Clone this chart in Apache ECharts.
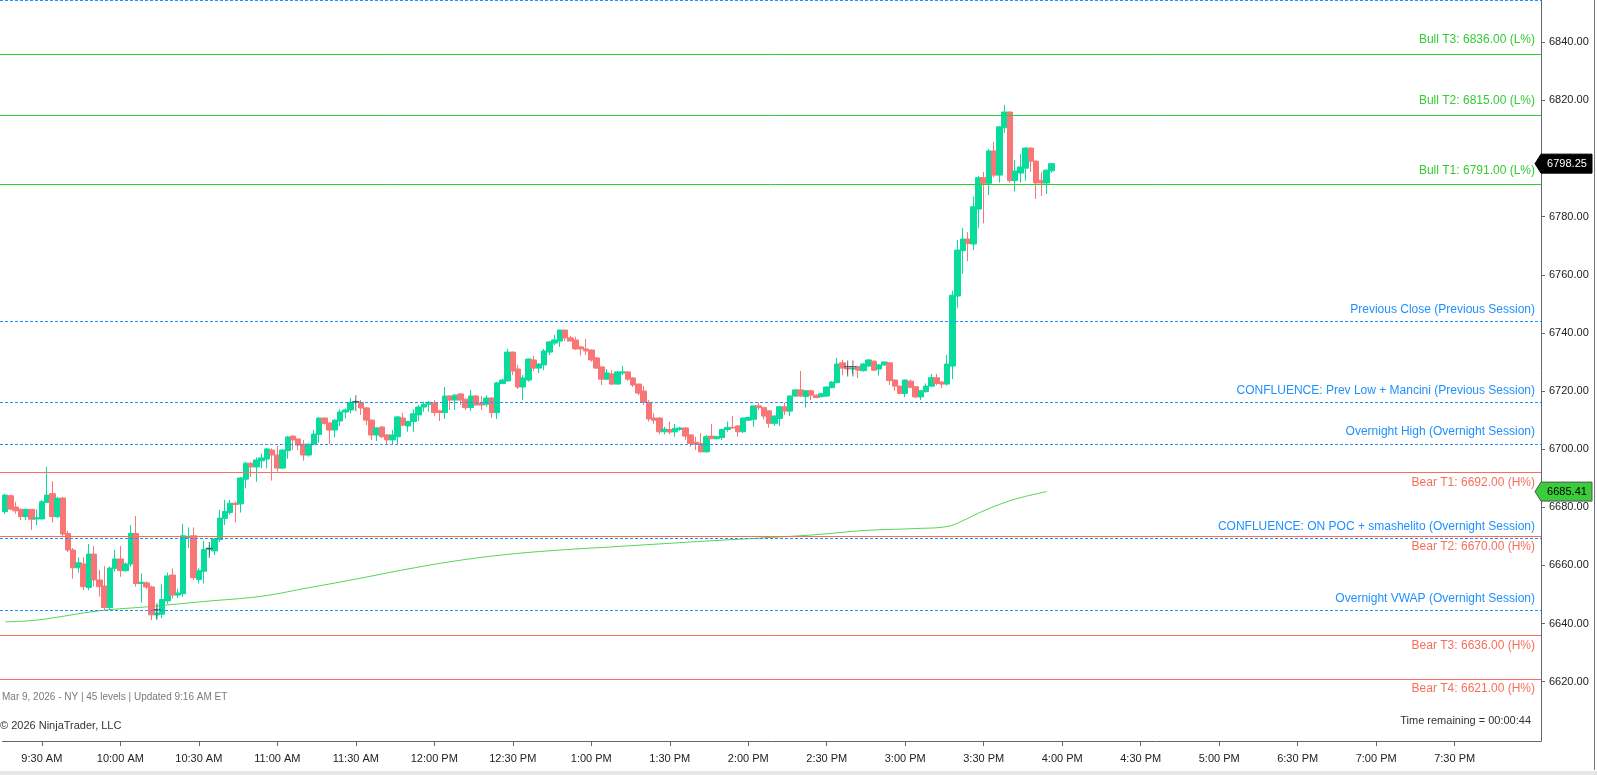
<!DOCTYPE html>
<html><head><meta charset="utf-8">
<script src="https://cdn.jsdelivr.net/npm/echarts@6/dist/echarts.min.js"></script>
<style>html,body{margin:0;padding:0;background:#fff;overflow:hidden}#c{width:1597px;height:775px}</style>
</head><body><div id="c"></div><script>
// ---------- data ----------
const firstBarMinute = 556;      // 9:16 AM, first 2-minute bar
const barMinutes = 2;
const slotCount = 294;           // time slots shown on the axis
const closedFrom = 1020, closedMinutes = 60; // 5:00 PM - 6:00 PM break
const tickLabels = ['9:30 AM','10:00 AM','10:30 AM','11:00 AM','11:30 AM','12:00 PM','12:30 PM','1:00 PM','1:30 PM','2:00 PM','2:30 PM','3:00 PM','3:30 PM','4:00 PM','4:30 PM','5:00 PM','6:30 PM','7:00 PM','7:30 PM'];
const yTickValues = [6620,6640,6660,6680,6700,6720,6740,6760,6780,6800,6820,6840];
const yMin = 6599.6, yMax = 6854.55;

// [open, close, low, high] per 2-minute bar
const ohlc = [
[6678.5,6684.2,6677.7,6684.6],[6684.0,6679.4,6679.0,6684.4],[6680.1,6678.8,6677.8,6681.9],[6679.3,6676.8,6675.6,6679.6],
[6676.8,6679.3,6675.6,6679.6],[6679.3,6675.9,6672.2,6679.4],[6676.0,6676.4,6673.9,6679.3],[6676.0,6681.9,6675.9,6682.5],
[6681.7,6684.2,6681.5,6693.9],[6684.7,6676.8,6674.7,6689.0],[6676.8,6683.1,6676.3,6683.6],[6683.2,6670.8,6669.8,6683.6],
[6671.0,6665.3,6664.6,6672.0],[6665.3,6659.2,6655.4,6666.0],[6659.2,6660.9,6657.5,6662.8],[6660.5,6652.7,6651.5,6662.8],
[6652.4,6663.9,6651.5,6667.4],[6663.9,6655.0,6652.7,6666.7],[6655.0,6652.7,6649.3,6658.4],[6652.9,6645.5,6644.7,6659.8],
[6645.5,6659.1,6644.7,6659.6],[6659.0,6662.2,6657.9,6665.3],[6662.2,6658.2,6656.1,6666.7],[6658.2,6660.5,6657.8,6661.0],
[6660.5,6671.0,6659.5,6673.9],[6671.0,6653.8,6652.7,6677.0],[6653.8,6654.2,6647.2,6657.3],[6654.0,6652.6,6651.8,6654.5],
[6652.6,6643.0,6641.2,6653.0],[6643.0,6643.6,6641.3,6645.5],[6643.2,6648.3,6641.8,6653.5],[6647.8,6656.4,6646.8,6657.5],
[6656.7,6649.8,6648.6,6659.0],[6649.8,6650.5,6648.8,6652.0],[6650.3,6670.2,6649.2,6674.3],[6669.6,6670.0,6666.0,6673.1],
[6670.2,6655.8,6655.0,6673.1],[6655.2,6658.2,6653.8,6659.0],[6658.0,6665.5,6653.8,6668.5],[6665.5,6665.8,6663.5,6667.0],
[6665.0,6669.1,6663.6,6669.5],[6668.9,6676.3,6668.0,6679.1],[6676.2,6678.6,6673.9,6682.5],[6678.2,6681.4,6677.5,6682.5],
[6681.4,6681.0,6674.8,6682.0],[6681.2,6690.1,6678.2,6690.4],[6689.7,6695.2,6686.5,6695.6],[6695.2,6693.9,6690.5,6695.5],
[6693.9,6696.3,6688.8,6697.2],[6696.0,6697.0,6693.4,6698.5],[6696.6,6700.1,6693.4,6700.4],[6699.7,6698.0,6689.2,6700.3],
[6698.0,6693.5,6692.3,6701.1],[6693.5,6699.7,6693.2,6700.0],[6699.5,6704.2,6696.7,6704.5],[6704.5,6703.2,6699.7,6704.8],
[6703.5,6701.4,6699.7,6703.8],[6701.7,6698.0,6696.0,6703.2],[6698.0,6701.7,6697.4,6702.0],[6701.7,6705.2,6701.5,6706.6],
[6705.1,6710.7,6702.2,6711.0],[6710.7,6708.8,6708.5,6711.0],[6709.0,6706.6,6701.8,6709.3],[6706.6,6710.0,6704.1,6710.3],
[6709.7,6712.8,6708.0,6713.7],[6712.8,6713.5,6710.6,6714.0],[6713.5,6716.1,6712.3,6717.6],[6716.1,6716.3,6715.5,6717.0],
[6716.1,6714.2,6711.8,6716.9],[6714.2,6710.0,6708.3,6714.5],[6710.0,6704.9,6703.2,6710.3],[6704.9,6707.3,6702.8,6707.6],
[6707.6,6704.3,6703.8,6708.0],[6704.9,6703.2,6701.8,6705.2],[6703.2,6704.9,6701.8,6706.6],[6704.3,6711.1,6701.8,6711.4],
[6710.7,6708.3,6707.8,6712.5],[6708.0,6709.5,6706.0,6709.8],[6709.5,6712.2,6706.0,6713.7],[6711.8,6714.5,6709.7,6715.2],
[6714.5,6715.5,6712.9,6716.3],[6715.5,6716.1,6712.9,6716.6],[6715.9,6712.6,6711.4,6716.9],[6713.2,6712.6,6709.7,6713.5],
[6712.6,6718.3,6710.4,6721.4],[6718.3,6716.9,6713.5,6718.6],[6716.9,6718.6,6713.5,6718.9],[6719.0,6716.9,6715.2,6719.4],
[6717.2,6714.3,6713.5,6717.5],[6714.3,6718.3,6713.1,6720.4],[6718.3,6715.2,6715.0,6718.6],[6715.9,6715.2,6713.5,6718.3],
[6715.5,6717.6,6714.6,6718.6],[6717.6,6712.6,6710.8,6717.9],[6712.6,6722.8,6710.4,6723.2],[6722.6,6723.8,6722.3,6724.2],
[6723.5,6733.4,6723.3,6734.5],[6733.4,6726.9,6725.5,6733.6],[6727.6,6721.4,6720.7,6729.0],[6721.4,6724.5,6716.9,6725.5],
[6723.8,6731.0,6723.2,6731.2],[6730.7,6727.9,6726.9,6732.1],[6727.9,6729.3,6726.2,6729.6],[6729.0,6733.8,6727.2,6734.5],
[6733.4,6736.9,6732.4,6737.2],[6736.5,6737.6,6735.8,6739.3],[6737.2,6741.0,6735.2,6741.0],[6741.0,6738.3,6737.2,6741.0],
[6738.3,6737.2,6737.2,6739.0],[6737.6,6734.5,6734.1,6738.7],[6735.2,6734.5,6732.2,6735.5],[6734.5,6733.8,6732.4,6737.9],
[6734.1,6730.7,6730.1,6734.4],[6731.4,6727.9,6727.6,6731.7],[6728.3,6724.1,6722.1,6728.6],[6724.1,6726.2,6724.0,6727.6],
[6725.9,6722.4,6722.0,6727.2],[6722.4,6726.6,6722.3,6726.9],[6726.2,6726.6,6725.5,6728.6],[6726.6,6724.1,6723.5,6726.8],
[6724.5,6722.1,6721.4,6724.8],[6722.4,6719.3,6718.6,6722.6],[6720.0,6716.1,6715.2,6721.7],[6716.1,6710.4,6709.5,6716.9],
[6710.7,6710.0,6708.7,6712.4],[6710.7,6706.0,6705.1,6711.0],[6706.0,6706.9,6705.1,6707.7],[6706.8,6705.9,6705.1,6709.5],
[6706.0,6707.2,6704.3,6708.7],[6706.8,6707.3,6706.3,6707.7],[6707.3,6704.5,6703.2,6707.6],[6704.9,6702.0,6700.9,6705.2],
[6702.4,6701.7,6699.7,6704.3],[6702.0,6699.1,6698.8,6705.5],[6699.1,6704.3,6698.8,6704.9],[6704.5,6703.6,6703.5,6708.7],
[6703.6,6704.3,6703.4,6704.6],[6704.0,6706.8,6703.2,6707.0],[6706.8,6707.5,6706.0,6709.5],[6707.5,6707.3,6707.1,6711.4],
[6708.0,6706.0,6704.3,6708.2],[6706.0,6710.7,6705.6,6710.9],[6710.0,6710.9,6709.8,6711.2],[6710.3,6714.9,6707.7,6715.1],
[6714.9,6714.3,6713.5,6716.0],[6714.3,6711.4,6710.3,6714.5],[6713.2,6708.9,6707.4,6713.4],[6708.9,6711.4,6708.0,6711.7],
[6710.6,6714.6,6708.0,6714.8],[6714.6,6713.1,6711.8,6716.0],[6713.1,6718.3,6711.4,6718.5],[6718.3,6720.4,6718.0,6720.6],
[6720.4,6718.3,6718.0,6726.9],[6718.1,6720.1,6714.3,6720.3],[6720.1,6718.6,6716.9,6720.4],[6718.6,6717.8,6717.5,6718.9],
[6718.1,6719.1,6717.8,6719.4],[6718.3,6721.4,6718.0,6721.6],[6721.2,6723.1,6720.9,6723.4],[6722.9,6729.3,6722.7,6731.4],
[6729.7,6727.9,6725.5,6730.7],[6727.9,6727.6,6726.0,6729.0],[6727.6,6727.9,6726.0,6728.5],[6728.4,6727.2,6724.4,6728.7],
[6727.0,6729.3,6726.7,6729.6],[6728.6,6730.7,6728.3,6731.0],[6730.3,6727.2,6726.9,6730.5],[6727.6,6729.0,6725.3,6729.3],
[6729.0,6730.0,6728.7,6730.2],[6729.7,6723.6,6722.1,6729.9],[6723.8,6721.7,6720.1,6724.0],[6721.7,6719.2,6718.9,6721.9],
[6719.2,6723.8,6717.9,6724.0],[6723.4,6721.3,6720.9,6724.0],[6721.5,6718.0,6717.5,6721.7],[6718.0,6720.1,6716.9,6720.4],
[6719.8,6721.7,6719.5,6722.6],[6721.7,6724.6,6721.4,6725.9],[6724.6,6722.6,6722.0,6725.9],[6723.1,6722.4,6721.0,6723.4],
[6722.4,6729.3,6721.9,6732.4],[6728.6,6753.0,6724.1,6754.5],[6752.7,6768.5,6748.5,6772.0],[6768.3,6772.3,6760.3,6776.1],
[6772.3,6770.8,6764.7,6774.7],[6770.6,6783.4,6768.5,6786.9],[6782.6,6793.4,6776.0,6794.0],[6793.4,6791.5,6777.7,6795.4],
[6791.5,6802.6,6787.4,6803.3],[6802.6,6794.3,6793.5,6805.7],[6794.3,6810.9,6791.7,6811.1],[6810.6,6816.0,6808.9,6818.4],
[6816.0,6792.4,6791.7,6816.2],[6792.4,6795.7,6788.6,6799.5],[6795.0,6797.1,6791.7,6801.6],[6796.7,6803.6,6792.4,6804.0],
[6803.6,6799.1,6795.4,6803.8],[6799.1,6791.6,6786.1,6799.4],[6792.5,6791.6,6787.1,6795.4],[6791.6,6796.0,6787.8,6796.3],
[6795.8,6798.25,6795.1,6798.5]
];

// VWAP line (bar index, value)
const vwapIndex = [0, 6, 18, 28, 38, 49, 57, 67, 77, 87, 96, 106, 116, 125, 135, 145, 155, 164, 174, 180, 183, 186, 190, 194, 199];
const vwapValue = [6640.6, 6641.2, 6644.4, 6645.9, 6647.6, 6649.4, 6652.0, 6655.3, 6658.8, 6661.8, 6663.8, 6665.3, 6666.4, 6667.4, 6668.5, 6669.5, 6670.6, 6672.0, 6672.7, 6673.4, 6675.4, 6678.0, 6681.0, 6683.3, 6685.41];
const vwapLast = 6685.41;
const lastPrice = 6798.25;

// execution markers (bar index, price)
const markerIndex = [29, 39, 67, 161, 162];
const markerPrice = [6644.2, 6665.3, 6715.8, 6727.8, 6727.8];

// key levels
const levelPrices = [6854.3, 6836, 6815, 6791, 6744.0, 6716.1, 6701.75, 6692, 6669.25, 6670, 6644.5, 6636, 6621];
const levelKinds  = ['info','bull','bull','bull','info','info','info','bear','info','bear','info','bear','bear'];
const levelNames  = ['', 'Bull T3: 6836.00 (L%)', 'Bull T2: 6815.00 (L%)', 'Bull T1: 6791.00 (L%)',
  'Previous Close (Previous Session)', 'CONFLUENCE: Prev Low + Mancini (Previous Session)', 'Overnight High (Overnight Session)',
  'Bear T1: 6692.00 (H%)', 'CONFLUENCE: ON POC + smashelito (Overnight Session)', 'Bear T2: 6670.00 (H%)',
  'Overnight VWAP (Overnight Session)', 'Bear T3: 6636.00 (H%)', 'Bear T4: 6621.00 (H%)'];

// ---------- build ----------
function fmtTime(m) {
  let h = Math.floor(m / 60), mm = m % 60;
  const ap = h >= 12 ? 'PM' : 'AM';
  h = h % 12; if (h === 0) h = 12;
  return h + ':' + (mm < 10 ? '0' : '') + mm + ' ' + ap;
}
const categories = [];
for (let k = 0; k < slotCount; k++) {
  let t = firstBarMinute + k * barMinutes;
  if (t > closedFrom) t += closedMinutes;
  categories.push(fmtTime(t));
}
const showTick = (i, v) => tickLabels.indexOf(v) >= 0;

const kindStyle = {
  bull: { color: '#33cc33', type: 'solid', pos: 'insideEndTop', dist: 8 },
  bear: { color: '#f76f5c', type: 'solid', pos: 'insideEndBottom', dist: 4 },
  info: { color: '#1e90ff', type: [3, 2], pos: 'insideEndTop', dist: 6 }
};
const FONT = '"Liberation Sans", Arial, sans-serif';
const UP = '#07dc9c', DOWN = '#f87676', AXIS = '#5d6674';

const levelData = levelPrices.map((p, i) => {
  const s = kindStyle[levelKinds[i]];
  return {
    yAxis: p,
    lineStyle: { color: s.color, type: s.type, width: 1 },
    label: { show: levelNames[i] !== '', formatter: levelNames[i], position: s.pos, color: s.color,
      fontSize: 12, fontFamily: FONT, distance: [6, s.dist] }
  };
});

const chart = echarts.init(document.getElementById('c'), null, { renderer: 'canvas' });
const GRID_RIGHT = 56, GRID_BOTTOM = 34;
chart.setOption({
  animation: false,
  backgroundColor: '#ffffff',
  grid: [
    { left: 2.6, right: GRID_RIGHT, top: 0, bottom: GRID_BOTTOM, containLabel: false },
    { left: 0, right: GRID_RIGHT, top: 0, bottom: GRID_BOTTOM, containLabel: false }
  ],
  xAxis: [
    { type: 'category', gridIndex: 0, data: categories, boundaryGap: true,
      axisLine: { lineStyle: { color: AXIS, width: 1 } },
      axisTick: { show: true, interval: showTick, alignWithLabel: true, length: 5, lineStyle: { color: AXIS } },
      axisLabel: { interval: showTick, color: '#222', fontSize: 11, fontFamily: FONT, margin: 12 },
      splitLine: { show: false } },
    { type: 'value', gridIndex: 1, min: 0, max: 1, show: false }
  ],
  yAxis: [
    { type: 'value', gridIndex: 0, position: 'right', min: yMin, max: yMax, scale: true,
      axisLine: { show: true, lineStyle: { color: AXIS, width: 1 } },
      axisTick: { show: true, length: 4, customValues: yTickValues, lineStyle: { color: AXIS } },
      axisLabel: { customValues: yTickValues, color: '#222', fontSize: 11, fontFamily: FONT, margin: 8,
        formatter: v => v.toFixed(2) },
      splitLine: { show: false } },
    { type: 'value', gridIndex: 1, min: yMin, max: yMax, show: false }
  ],
  series: [
    { type: 'line', xAxisIndex: 0, yAxisIndex: 0, data: vwapIndex.map((x, i) => [x, vwapValue[i]]),
      showSymbol: false, smooth: 0.4, lineStyle: { color: '#55d455', width: 1 }, z: 2, silent: true },
    { type: 'candlestick', xAxisIndex: 0, yAxisIndex: 0, data: ohlc, barWidth: 6,
      itemStyle: { color: UP, color0: DOWN, borderColor: UP, borderColor0: DOWN, borderWidth: 1 }, z: 3 },
    { type: 'scatter', xAxisIndex: 0, yAxisIndex: 0, data: markerIndex.map((x, i) => [x, markerPrice[i]]),
      symbol: 'path://M3,0 L4,0 L4,5 L7,5 L7,6 L4,6 L4,14 L3,14 L3,6 L0,6 L0,5 L3,5 Z', symbolSize: [7, 16],
      itemStyle: { color: '#3b4656' }, z: 6, silent: true },
    { type: 'line', xAxisIndex: 1, yAxisIndex: 1, data: [], silent: true, z: 5,
      markLine: { silent: true, symbol: ['none', 'none'], animation: false, data: levelData } }
  ]
});

// ---------- overlays ----------
const yLast = chart.convertToPixel({ yAxisIndex: 0 }, lastPrice);
const yVwap = chart.convertToPixel({ yAxisIndex: 0 }, vwapLast);
const axX = 1597 - GRID_RIGHT;
function tag(yc, fill, stroke, txt, txtColor) {
  return [
    { type: 'polygon', shape: { points: [[axX - 6, yc], [axX, yc - 9.5], [axX + 51, yc - 9.5], [axX + 51, yc + 9.5], [axX, yc + 9.5]] },
      style: { fill: fill, stroke: stroke, lineWidth: 1 }, z: 100 },
    { type: 'text', x: axX + 26, y: yc, style: { text: txt, fill: txtColor, font: '11px ' + FONT, align: 'center', verticalAlign: 'middle' }, z: 101 }
  ];
}
chart.setOption({
  graphic: [
    { type: 'text', left: 2, top: 692, style: { text: 'Mar 9, 2026 - NY | 45 levels | Updated 9:16 AM ET', fill: '#7a7a7a', font: '10px ' + FONT } },
    { type: 'text', left: 0, top: 720, style: { text: '\u00A9 2026 NinjaTrader, LLC', fill: '#333', font: '11px ' + FONT } },
    { type: 'text', right: 66, top: 715, style: { text: 'Time remaining = 00:00:44', fill: '#333', font: '11px ' + FONT } },
    { type: 'line', shape: { x1: 1594.5, y1: 0, x2: 1594.5, y2: 770 }, style: { stroke: '#6b7280', lineWidth: 1 } },
    { type: 'rect', shape: { x: 0, y: 771, width: 1597, height: 4 }, style: { fill: '#e6e6e6' } },
    ...tag(yLast, '#000', '#000', lastPrice.toFixed(2), '#fff'),
    ...tag(yVwap, '#3bcc3b', '#555', vwapLast.toFixed(2), '#000')
  ]
});
</script></body></html>
